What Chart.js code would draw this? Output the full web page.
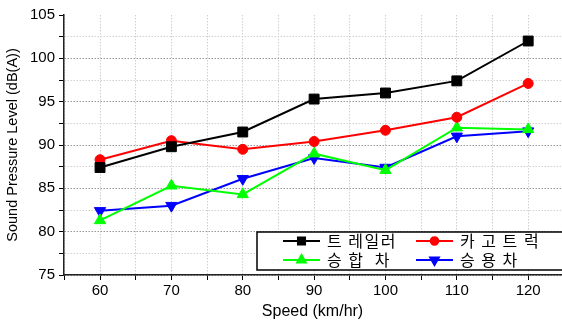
<!DOCTYPE html>
<html>
<head>
<meta charset="utf-8">
<script src="https://cdn.jsdelivr.net/npm/chart.js@4"></script>
<style>
  html, body { margin: 0; padding: 0; background: #fff; }
  canvas { display: block; }
</style>
</head>
<body>
<canvas id="chart" width="562" height="324"></canvas>
<script>
// values
const speeds = [60, 70, 80, 90, 100, 110, 120];
const trailer = [87.4, 89.8, 91.5, 95.3, 96.0, 97.4, 102.0];
const cargoTruck = [88.3, 90.5, 89.5, 90.4, 91.7, 93.2, 97.1];
const van = [81.3, 85.3, 84.3, 89.0, 87.1, 92.0, 91.8];
const car = [82.4, 83.0, 86.1, 88.5, 87.4, 91.0, 91.6];
const seriesLabels = ['트 레일러', '카 고 트 럭', '승 합  차', '승 용 차'];
const xGridValues = [55, 60, 65, 70, 75, 80, 85, 90, 95, 100, 105, 110, 115, 120];
const xTickLabels = [60, 70, 80, 90, 100, 110, 120];
const yTickLabels = [75, 80, 85, 90, 95, 100, 105];

function toPoints(values) {
    return speeds.map((s, i) => ({ x: s, y: values[i] }));
}

// legend in a black box sitting inside the plot, bottom right
const boxLegend = {
    id: 'boxLegend',
    afterDraw(chart) {
        const ctx = chart.ctx;
        const a = chart.chartArea;
        const left = a.left + 193;
        const top = a.top + 217;
        const bottom = a.top + 255;
        ctx.save();
        ctx.fillStyle = '#fff';
        ctx.fillRect(left, top, a.right + 20 - left, bottom - top);
        ctx.strokeStyle = '#000';
        ctx.lineWidth = 1.5;
        ctx.strokeRect(left, top, a.right + 20 - left, bottom - top);

        chart.data.datasets.forEach((ds, i) => {
            const col = i % 2;
            const row = Math.floor(i / 2);
            const x0 = left + 26 + col * 133;
            const y = top + 9 + row * 19;
            ctx.strokeStyle = ds.borderColor;
            ctx.lineWidth = 2;
            ctx.beginPath();
            ctx.moveTo(x0, y);
            ctx.lineTo(x0 + 37, y);
            ctx.stroke();
            ctx.fillStyle = ds.borderColor;
            Chart.helpers.drawPoint(ctx, {
                pointStyle: ds.pointStyle,
                radius: ds.pointStyle === 'rect' ? 5 : (ds.pointStyle === 'circle' ? 3.8 : 5),
                rotation: ds.pointRotation || 0,
                borderWidth: 1
            }, x0 + 18.5, y);
            ctx.fillStyle = '#000';
            ctx.font = '16px "Noto Sans CJK KR"';
            ctx.letterSpacing = '1.5px';
            ctx.textBaseline = 'middle';
            ctx.textAlign = 'left';
            ctx.fillText(ds.label, x0 + 44, y);
        });
        ctx.restore();
    }
};

const colors = ['#000000', '#ff0000', '#00ff00', '#0000ff'];
const styles = ['rect', 'circle', 'triangle', 'triangle'];
const radii = [7, 5, 6.5, 6.5];
const rotations = [0, 0, 0, 180];
const series = [trailer, cargoTruck, van, car];

const datasets = series.map((values, i) => ({
    label: seriesLabels[i],
    data: toPoints(values),
    borderColor: colors[i],
    backgroundColor: colors[i],
    pointBackgroundColor: colors[i],
    pointBorderColor: colors[i],
    pointBorderWidth: 1,
    pointStyle: styles[i],
    pointRadius: radii[i],
    pointRotation: rotations[i],
    borderWidth: 2,
    tension: 0,
    clip: false
}));

const tickFont = { family: '"Liberation Sans", Arial, sans-serif', size: 15 };

new Chart(document.getElementById('chart').getContext('2d'), {
    type: 'line',
    data: { datasets: datasets },
    options: {
        responsive: false,
        animation: false,
        devicePixelRatio: 1,
        layout: { autoPadding: false, padding: { top: 15, right: 1, left: 0, bottom: 0 } },
        plugins: {
            legend: { display: false },
            tooltip: { enabled: false }
        },
        scales: {
            x: {
                type: 'linear',
                min: 54.95,
                max: 124.6,
                afterFit: function (scale) {
                    scale.height = 49;
                    scale.paddingLeft = 0;
                    scale.paddingRight = 0;
                },
                afterBuildTicks: function (scale) {
                    scale.ticks = xGridValues.map(v => ({ value: v }));
                },
                ticks: {
                    autoSkip: false,
                    maxRotation: 0,
                    padding: 2,
                    color: '#000',
                    font: tickFont,
                    callback: v => xTickLabels.includes(v) ? String(v) : ''
                },
                grid: {
                    color: '#cfcfcf',
                    lineWidth: 1,
                    tickColor: '#000',
                    tickLength: 5,
                    tickWidth: 1,
                    tickBorderDash: []
                },
                border: { color: '#222', width: 1.5, dash: [1.5, 1.5] },
                title: {
                    display: true,
                    text: 'Speed (km/hr)',
                    color: '#000',
                    font: { family: '"Liberation Sans", Arial, sans-serif', size: 16 },
                    padding: { top: 0, bottom: 3 }
                }
            },
            y: {
                min: 75,
                max: 105,
                afterFit: function (scale) { scale.width = 64; },
                ticks: {
                    stepSize: 2.5,
                    autoSkip: false,
                    padding: 4,
                    color: '#000',
                    font: tickFont,
                    callback: v => yTickLabels.includes(v) ? String(v) : ''
                },
                grid: {
                    color: ctx => {
                        const v = ctx.tick ? ctx.tick.value : 0;
                        if (v === 105) return 'rgba(0,0,0,0)';
                        return v % 5 === 0 ? '#999999' : '#d2d2d2';
                    },
                    lineWidth: 1,
                    tickColor: '#000',
                    tickLength: 5,
                    tickWidth: 1,
                    tickBorderDash: []
                },
                border: { color: '#222', width: 1.5, dash: [1.5, 1.5] },
                title: {
                    display: true,
                    text: 'Sound Pressure Level (dB(A))',
                    color: '#000',
                    font: { family: '"Liberation Sans", Arial, sans-serif', size: 14.5 },
                    padding: { top: 4, bottom: 0 }
                }
            }
        }
    },
    plugins: [boxLegend]
});
</script>
</body>
</html>
